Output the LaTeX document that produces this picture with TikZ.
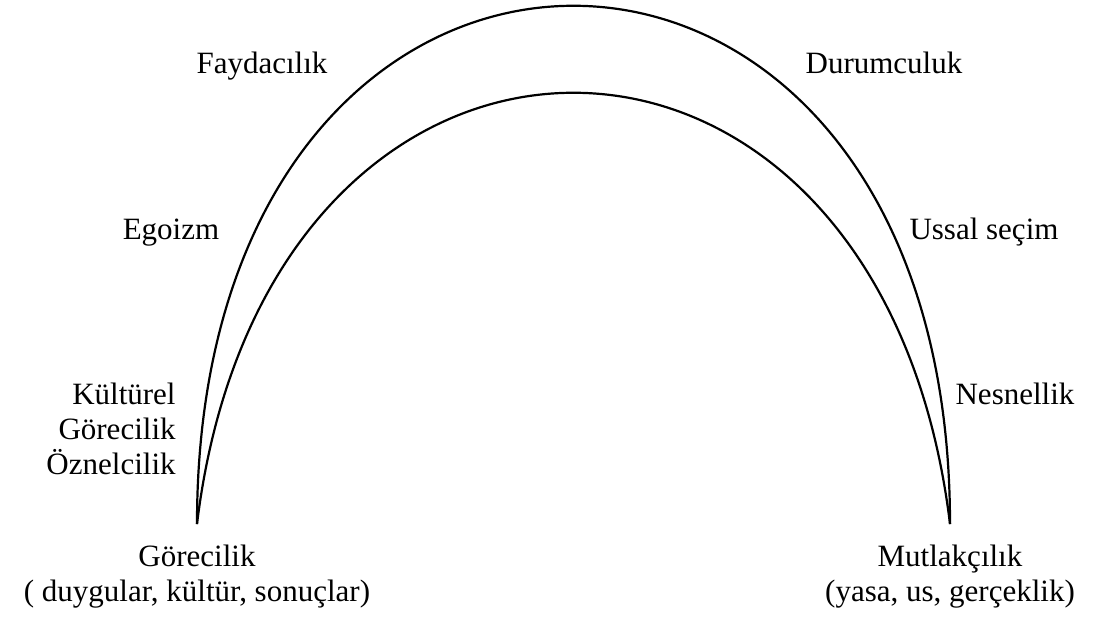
\documentclass[tikz,border=0pt]{standalone}
\usepackage{fontspec}
\setmainfont{Liberation Serif}
\usetikzlibrary{positioning}

\begin{document}
\begin{tikzpicture}[
  x=0.5pt, y=-0.5pt,
  every node/.style={font=\fontsize{15.5}{17.5}\selectfont, inner sep=0pt},
  lbl/.style={anchor=base},
  block/.style={align=center},
  curve/.style={line width=1.1pt}
]
\useasboundingbox (0,0) rectangle (1093,618);

\coordinate (lend) at (197,524);
\coordinate (rend) at (950,524);

\node[lbl] (fayda) at (262,73) {Faydacılık};
\node[lbl] (durum) at (884,73) {Durumculuk};
\node[lbl] (ego) at (171,239) {Egoizm};
\node[lbl] (ussal) at (984,239) {Ussal seçim};
\node[lbl] (nesnel) at (1015,404) {Nesnellik};
\node[anchor=north east, align=right] (kultur) at (176,383) {Kültürel\\Görecilik\\Öznelcilik};

\node[block, below=10.5pt of lend] (goreli) {Görecilik\\( duygular, kültür, sonuçlar)};
\node[block, below=10.5pt of rend] (mutlak) {Mutlakçılık\\(yasa, us, gerçeklik)};

% Arcs
\draw[curve] (lend) .. controls +(0,-691) and +(0,-691) .. (rend);
\draw[curve] (lend) .. controls +(70,-575) and +(-70,-575) .. (rend);

\end{tikzpicture}
\end{document}
